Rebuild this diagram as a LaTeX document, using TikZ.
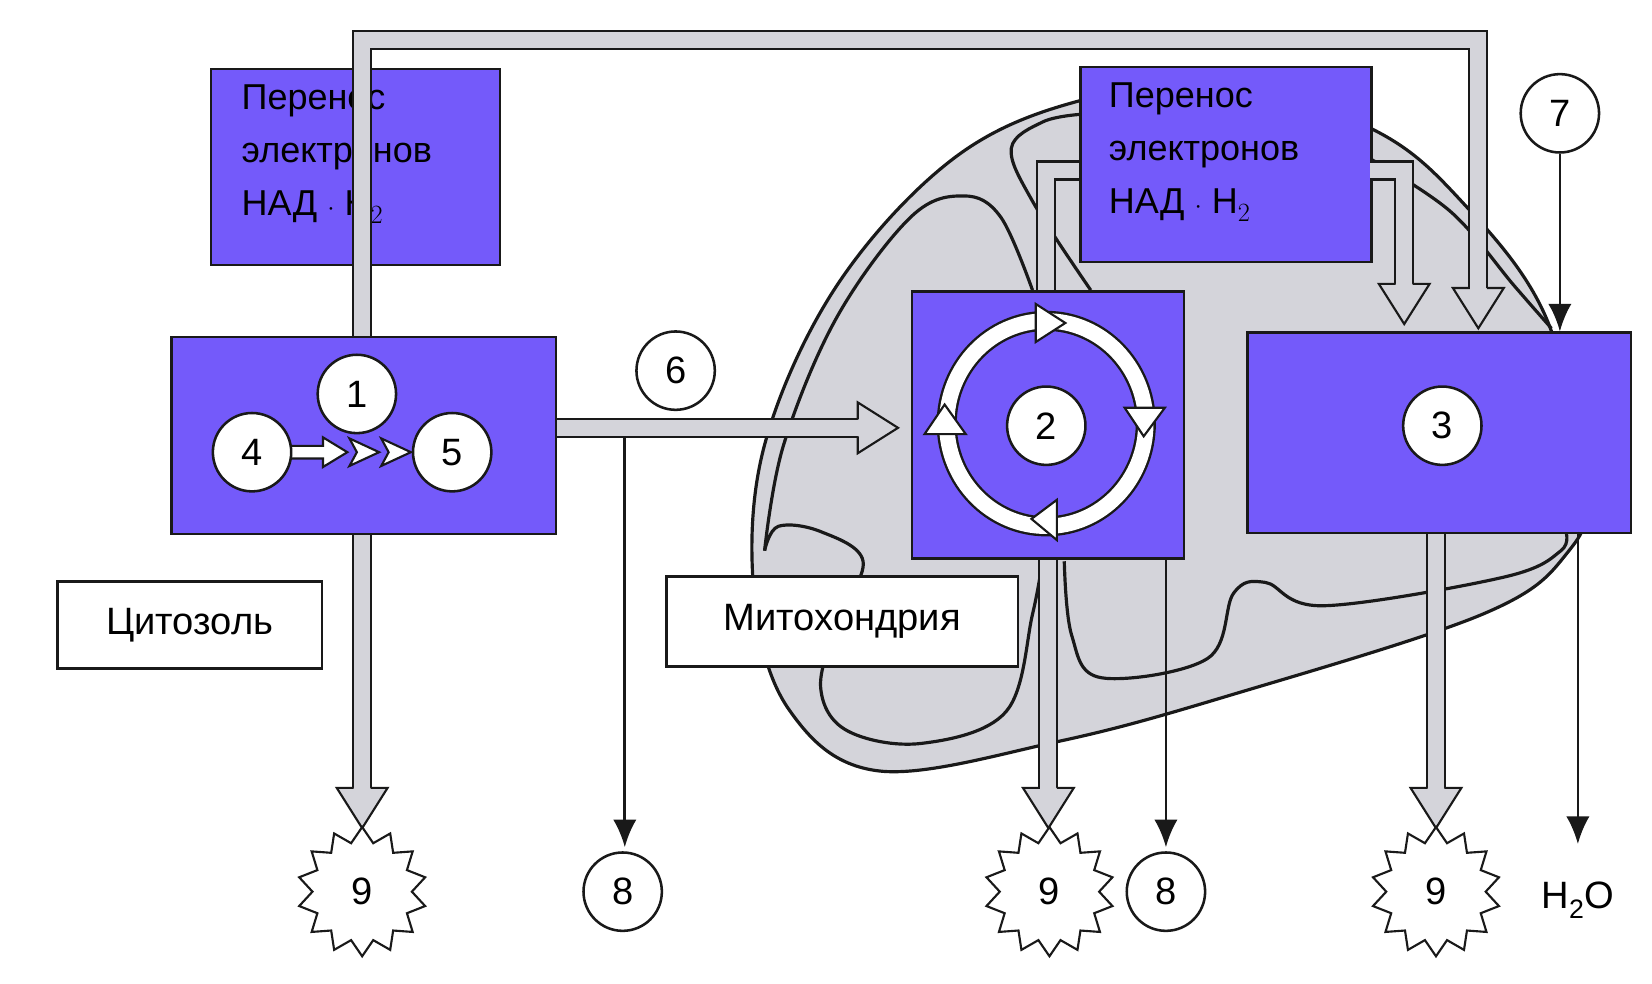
\documentclass[tikz,border=0pt]{standalone}
\usepackage{fontspec}
\setmainfont{Liberation Sans}
\usetikzlibrary{shapes.geometric}
\definecolor{purp}{RGB}{116,90,250}
\definecolor{pg}{RGB}{212,212,218}
\tikzset{
 box/.style={draw=black!90,line width=2.4pt,fill=purp,anchor=north west,inner sep=0},
 num/.style={circle,draw=black!90,line width=2.4pt,fill=white,minimum size=74pt,inner sep=0,font=\fontsize{36}{40}\selectfont},
 lbl/.style={draw=black!90,line width=2.4pt,fill=white,anchor=north west,inner sep=0,font=\fontsize{36}{40}\selectfont},
 btxt/.style={anchor=north west,align=left,inner sep=0,font=\fontsize{34}{50}\selectfont},
 pipe/.style={double=pg,double distance=15pt,line width=2pt,draw=black!90},
 phead/.style={fill=pg,draw=black!90,line width=2pt,line join=miter},
 blk/.style={line width=2.6pt,draw=black!90,-{Latex[length=26pt,width=22pt]}},
 star9/.style={star,star points=14,star point ratio=1.3,minimum size=122pt,draw=black!90,line width=2pt,fill=white,inner sep=0,font=\fontsize{36}{40}\selectfont},
 mito/.style={line width=3pt,draw=black!90}
}
\usetikzlibrary{arrows.meta}
\begin{document}
\begin{tikzpicture}[x=1pt,y=-1pt]
\useasboundingbox (0,0) rectangle (1560,929);
% mitochondrion
\draw[mito,fill=pg] plot[smooth cycle,tension=0.6] coordinates {(1020,95) (900,150) (790,270) (722,420) (712,560) (745,670) (830,728) (1000,700) (1160,657) (1400,580) (1480,522) (1496,460) (1460,300) (1380,190) (1296,122) (1160,80)};
\draw[mito] plot[smooth,tension=0.6] coordinates {(722,520) (740,420) (790,300) (860,205) (910,185) (945,205) (975,274)};
\draw[mito] plot[smooth,tension=0.6] coordinates {(1030,274) (975,190) (955,140) (985,115) (1020,108)};
\draw[mito] plot[smooth,tension=0.6] coordinates {(1294,150) (1370,200) (1430,270) (1465,310)};
\draw[mito] plot[smooth,tension=0.6] coordinates {(722,520) (735,497) (775,502) (815,530) (790,590) (775,650) (800,690) (870,702) (950,672) (975,580) (985,526)};
\draw[mito] plot[smooth,tension=0.6] coordinates {(1005,530) (1012,600) (1040,640) (1140,622) (1165,560) (1195,550) (1250,572) (1420,545) (1474,520) (1478,500)};
% boxes
\node[box,minimum width=273pt,minimum height=185pt] (n1) at (198,64) {};
\node[btxt] (t1) at (228,80) {Перенос\\электронов\\НАД $\cdot$ $\mathrm{H}_2$};
\node[box,minimum width=275pt,minimum height=184pt] (n2) at (1019,62) {};
\node[btxt] (t2) at (1047,78) {Перенос\\электронов\\НАД $\cdot$ $\mathrm{H}_2$};
% pipes
\draw[pipe] (342,317) -- (342,38) -- (1396,38) -- (1396,272);
\draw[pipe] (988,274) -- (988,161) -- (1019,161);
\draw[pipe] (1294,161) -- (1326,161) -- (1326,270);
\draw[pipe] (524,404) -- (812,404);
\draw[pipe] (342,503) -- (342,748);
\draw[pipe] (990,526) -- (990,748);
\draw[pipe] (1356,502) -- (1356,748);
\foreach \x/\y in {1396/310,1326/306,342/782,990/782,1356/782}
  \draw[phead] (\x-8,\y-38) -- (\x-24,\y-38) -- (\x,\y) -- (\x+24,\y-38) -- (\x+8,\y-38);
\draw[phead] (810,396) -- (810,380) -- (848,404) -- (810,428) -- (810,412);
\node[box,minimum width=363pt,minimum height=186pt] (b1) at (161,317) {};
\node[box,minimum width=257pt,minimum height=252pt] (b2) at (860,274) {};
\node[box,minimum width=362pt,minimum height=189pt] (b3) at (1177,313) {};
% black arrows
\draw[blk] (590,412) -- (590,800);
\draw[blk] (1101,526) -- (1101,800);
\draw[blk] (1490,502) -- (1490,797);
% cycle
\draw[line width=19pt,black!90] (988,400) ellipse[x radius=94,y radius=97];
\draw[line width=14.5pt,white] (988,400) ellipse[x radius=94,y radius=97];
\foreach \p in {{(978,287) -- (1006,305) -- (978,323)},{(1062,385) -- (1080,412) -- (1100,385)},{(998,472) -- (974,490) -- (998,510)},{(873,410) -- (892,382) -- (912,410)}}
  \draw[fill=white,draw=black!90,line width=2pt] \p -- cycle;
% chevrons
\draw[fill=white,draw=black!90,line width=2pt] (270,421) -- (305,421) -- (305,413) -- (328,427) -- (305,441) -- (305,433) -- (270,433) -- cycle;
\draw[fill=white,draw=black!90,line width=2pt] (330,414) -- (358,427) -- (330,440) -- (337,427) -- cycle;
\draw[fill=white,draw=black!90,line width=2pt] (360,414) -- (388,427) -- (360,440) -- (367,427) -- cycle;
% numbers
\node[num] (c1) at (337,372) {1};
\node[num] (c4) at (238,427) {4};
\node[num] (c5) at (427,427) {5};
\node[num] (c2) at (988,402) {2};
\node[num] (c3) at (1362,402) {3};
\node[num] (c6) at (638,350) {6};
\node[num] (c7) at (1473,107) {7};
\node[num] (c8a) at (588,842) {8};
\node[num] (c8b) at (1101,842) {8};
\draw[blk] (c7) -- (1473,313);
\node[star9] (s1) at (342,842) {9};
\node[star9] (s2) at (991,842) {9};
\node[star9] (s3) at (1356,842) {9};
\node[font=\fontsize{36}{40}\selectfont] (h2o) at (1490,850) {$\mathrm{H_2O}$};
% labels
\node[lbl,minimum width=250pt,minimum height=82pt] (cyt) at (53,548) {Цитозоль};
\node[lbl,minimum width=332pt,minimum height=85pt] (mit) at (628,543) {Митохондрия};
\end{tikzpicture}
\end{document}
